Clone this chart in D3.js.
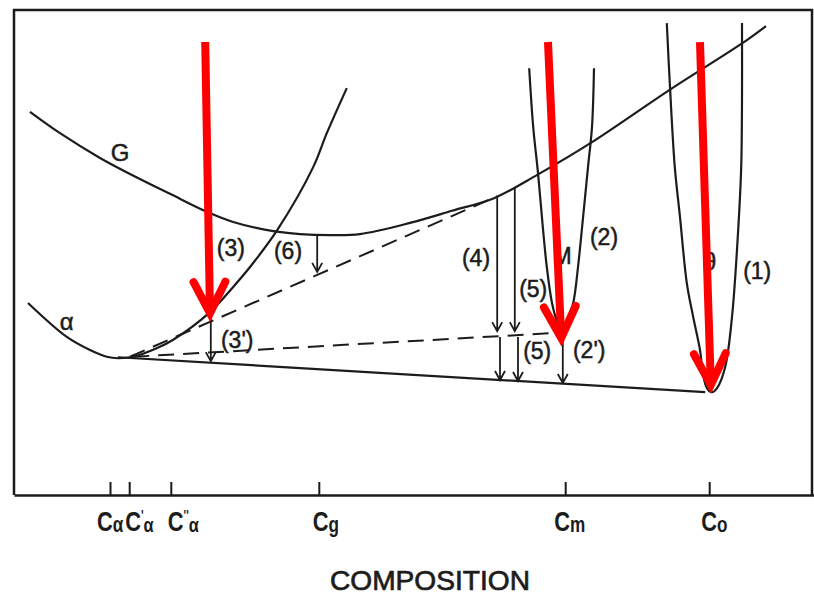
<!DOCTYPE html>
<html>
<head>
<meta charset="utf-8">
<style>
    * {
        padding: 0;
        margin: 0;
    }
    body { background: #fff; }
    svg { display: block; }
    .frame { fill: none; stroke: #1a1a1a; stroke-width: 2.5; }
    .curve { fill: none; stroke: #1c1c1c; stroke-width: 2.2; stroke-linejoin: round; }
    .dashed { fill: none; stroke: #1c1c1c; stroke-width: 2; stroke-dasharray: 16 9; }
    .drop { fill: none; stroke: #1c1c1c; stroke-width: 1.8; }
    .red { fill: none; stroke: #ff0000; stroke-width: 8; }
    .lab { font-family: "Liberation Sans", Arial, sans-serif; fill: #1c1c1c; }
</style>
<script src="https://cdn.jsdelivr.net/npm/d3@7"></script>
</head>
<body>
<script>

    /////////////////////////////////////////////////////
    // DATA (composition 0-100, free energy 0-100)
    /////////////////////////////////////////////////////

    //Free energy curve of the glass / liquid, G
    const curveG = [[2.0, 79.0], [5.75, 74.6], [10.75, 69.5], [14.5, 66.2], [19.5, 62.1], [24.1, 58.4],
        [27.4, 56.3], [32.4, 54.4], [35.75, 53.8], [39.5, 53.6], [43.25, 53.8], [49.5, 56.1],
        [54.75, 58.6], [60.0, 61.2], [65.4, 66.0], [72.1, 72.6], [82.1, 83.7], [90.9, 93.0], [94.0, 96.7]]

    //Terminal solid solution alpha
    const curveAlpha = [[1.75, 39.6], [6.6, 32.6], [9.5, 29.9], [11.6, 28.5], [13.0, 28.2], [14.9, 28.5],
        [17.9, 30.3], [19.9, 32.0], [24.5, 37.7], [27.4, 42.9], [29.5, 47.0], [32.9, 54.6],
        [37.4, 67.6], [39.1, 74.6], [41.6, 83.9]]

    //Metastable compound M
    const curveM = [[64.4, 88.0], [64.9, 75.9], [65.5, 66.4], [66.1, 55.3], [66.6, 47.0], [67.25, 39.6],
        [67.9, 35.7], [68.5, 34.0], [69.1, 35.7], [69.9, 39.6], [70.5, 47.0], [71.1, 56.7],
        [71.75, 67.6], [72.25, 75.9], [72.5, 88.0]]

    //Stable compound theta
    const curveTheta = [[81.6, 97.3], [82.0, 84.1], [82.6, 67.6], [83.25, 57.3], [84.1, 43.7], [84.9, 36.7],
        [85.75, 29.9], [86.1, 25.2], [86.6, 22.1], [87.25, 21.2], [87.9, 22.1], [88.9, 26.4],
        [89.75, 36.7], [90.5, 54.0], [90.9, 67.6], [91.0, 81.4], [91.0, 97.3]]

    //Common tangents: alpha-theta (solid), alpha-G and alpha-M (dashed)
    const tangentSolid = [[13.0, 28.4], [86.4, 21.2]]
    const tangentsDashed = [
        [[14.5, 28.5], [60.4, 61.6]],
        [[14.9, 28.5], [67.6, 33.4]]
    ]

    //Driving force arrows: composition, energy from, energy to
    const drops = [
        [37.9, 53.6, 46.0],
        [24.6, 37.5, 27.6],
        [60.4, 61.4, 33.8],
        [60.75, 32.6, 23.7],
        [62.6, 63.3, 33.8],
        [63.0, 32.6, 23.5],
        [68.6, 32.0, 23.1]
    ]

    //Red highlight arrows: [composition, energy] start and end
    const redArrows = [
        [[23.9, 93.4], [24.5, 37.5]],
        [[66.75, 93.4], [68.4, 32.4]],
        [[85.75, 93.4], [87.1, 22.7]]
    ]

    //Curve and arrow labels
    const labelText = ["G", "α", "(3)", "(6)", "(3')", "(4)", "(5)", "M", "(2)", "(5)", "(2')", "(1)", "θ"]
    const labelPos = [[13.25, 70.7], [6.6, 35.7], [27.1, 50.9], [34.25, 50.3], [27.9, 32.0], [57.75, 48.9],
        [64.9, 42.5], [68.5, 49.3], [73.75, 53.2], [65.4, 29.7], [71.9, 29.9], [92.9, 46.2], [87.0, 48.2]]

    //Composition ticks
    const tickPos = [12.0, 14.4, 19.6, 38.1, 68.9, 86.9]
    const tickSub = ["α", "α", "α", "g", "m", "o"]
    const tickPrime = ["", "'", "''", "", "", ""]

    /////////////////////////////////////////////////////
    // SETUP SVG
    /////////////////////////////////////////////////////

    const width = 814
    const height = 597

    const svg = d3.select("body").append("svg")
        .attr("width", width)
        .attr("height", height)

    const x = d3.scaleLinear().domain([0, 100]).range([14, 814])
    const y = d3.scaleLinear().domain([0, 100]).range([495, 10])

    const line = d3.line()
        .x(d => x(d[0]))
        .y(d => y(d[1]))
        .curve(d3.curveCatmullRom.alpha(0.5))

    const straight = d3.line()
        .x(d => x(d[0]))
        .y(d => y(d[1]))

    /////////////////////////////////////////////////////
    // FRAME AND AXIS
    /////////////////////////////////////////////////////

    svg.append("path")
        .attr("class", "frame")
        .attr("d", `M${x(0)},${y(0)}V${y(100)}H${x(99.75)}V${y(0)}`)

    const axis = svg.append("g")
        .attr("transform", `translate(0,${y(0)})`)
        .call(d3.axisBottom(x).tickValues(tickPos).tickSize(-13).tickSizeOuter(0).tickFormat(""))
    axis.select(".domain").attr("stroke", "#1a1a1a").attr("stroke-width", 2.5)
    axis.selectAll(".tick line").attr("stroke", "#1a1a1a").attr("stroke-width", 2)

    //Tick labels, C with subscripts (condensed like the original lettering)
    //the three alpha labels are crowded, so each one is nudged a little
    const labelNudge = [-13, -4, -3, -6, -11, -8]
    tickPos.forEach((t, i) => {
        const g = svg.append("g")
            .attr("transform", `translate(${x(t) + labelNudge[i]},531) scale(0.78,1)`)
        const txt = g.append("text")
            .attr("class", "lab")
            .attr("font-size", 28)
            .attr("font-weight", "bold")
            .text("C")
        if (tickPrime[i]) {
            txt.append("tspan").attr("font-size", 14).attr("dy", -11).text(tickPrime[i])
            txt.append("tspan").attr("font-size", 21).attr("dy", 12).text(tickSub[i])
        } else {
            txt.append("tspan").attr("font-size", 22).attr("dy", 1).text(tickSub[i])
        }
    })

    svg.append("text")
        .attr("class", "lab")
        .attr("x", 430)
        .attr("y", 590)
        .attr("text-anchor", "middle")
        .attr("font-size", 28)
        .attr("stroke", "#1c1c1c")
        .attr("stroke-width", 0.7)
        .attr("textLength", 200)
        .attr("lengthAdjust", "spacingAndGlyphs")
        .text("COMPOSITION")

    /////////////////////////////////////////////////////
    // CURVES AND TANGENTS
    /////////////////////////////////////////////////////

    ;[curveG, curveAlpha, curveM, curveTheta].forEach(c => {
        svg.append("path").attr("class", "curve").attr("d", line(c))
    })

    svg.append("path").attr("class", "curve").attr("d", straight(tangentSolid))

    tangentsDashed.forEach(t => {
        svg.append("path").attr("class", "dashed").attr("d", straight(t))
    })

    /////////////////////////////////////////////////////
    // BLACK DRIVING FORCE ARROWS
    /////////////////////////////////////////////////////

    drops.forEach(d => {
        const px = x(d[0]), y0 = y(d[1]), y1 = y(d[2])
        svg.append("path")
            .attr("class", "drop")
            .attr("d", `M${px},${y0}V${y1}M${px - 5},${y1 - 9}L${px},${y1}L${px + 5},${y1 - 9}`)
    })

    /////////////////////////////////////////////////////
    // LABELS
    /////////////////////////////////////////////////////

    labelText.forEach((t, i) => {
        svg.append("text")
            .attr("class", "lab")
            .attr("x", x(labelPos[i][0]))
            .attr("y", y(labelPos[i][1]))
            .attr("dy", "0.36em")
            .attr("text-anchor", "middle")
            .attr("font-size", t === "α" || t === "G" ? 24 : 23)
            .attr("stroke", "#1c1c1c")
            .attr("stroke-width", 0.5)
            .text(t)
    })

    /////////////////////////////////////////////////////
    // RED ARROWS ON TOP
    /////////////////////////////////////////////////////

    redArrows.forEach(a => {
        const x0 = x(a[0][0]), y0 = y(a[0][1])
        const x1 = x(a[1][0]), y1 = y(a[1][1])
        const ang = Math.atan2(y1 - y0, x1 - x0)
        const len = 35, spread = 27 * Math.PI / 180
        const lx = x1 - len * Math.cos(ang - spread), ly = y1 - len * Math.sin(ang - spread)
        const rx = x1 - len * Math.cos(ang + spread), ry = y1 - len * Math.sin(ang + spread)
        svg.append("path")
            .attr("class", "red")
            .attr("d", `M${x0},${y0}L${x1 - 4 * Math.cos(ang)},${y1 - 4 * Math.sin(ang)}`)
        svg.append("path")
            .attr("class", "red")
            .attr("stroke-linejoin", "miter")
            .attr("stroke-linecap", "round")
            .attr("d", `M${lx},${ly}L${x1},${y1}L${rx},${ry}`)
    })

</script>
</body>
</html>
